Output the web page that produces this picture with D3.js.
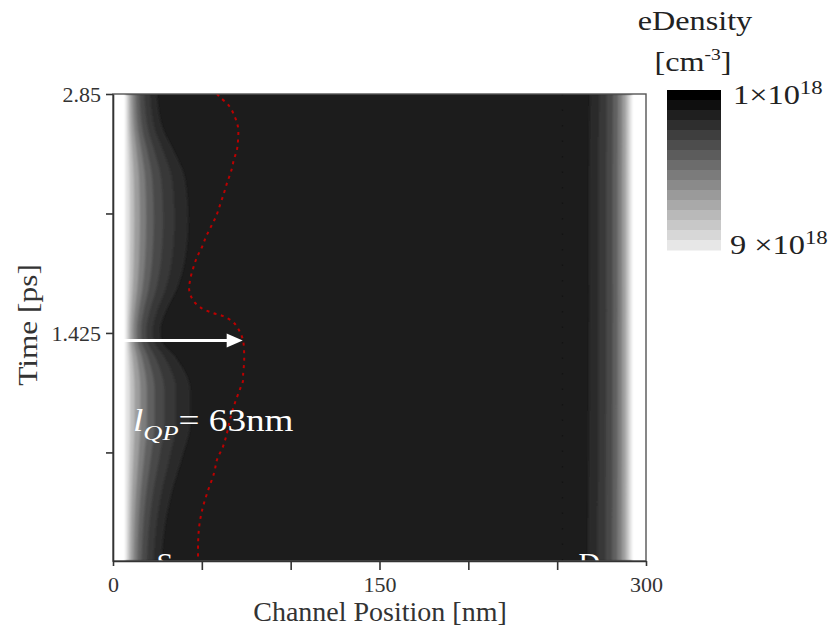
<!DOCTYPE html>
<html>
<head>
<meta charset="utf-8">
<script src="https://cdn.jsdelivr.net/npm/d3@7"></script>
<style>
  html, body { margin: 0; padding: 0; background: #fff; }
  svg { display: block; }
  text { font-family: "Liberation Serif", "Times New Roman", serif; }
</style>
</head>
<body>
<svg id="chart" width="835" height="633"></svg>
<script>
// ---- data ----
// Outer edge of the source-side accumulation region over time (nm)
const edgeTime   = [2.85, 2.635, 2.516, 2.337, 2.099, 1.842, 1.681, 1.562, 1.443, 1.383, 1.282, 1.085, 0.888, 0.685, 0.488, 0.292, 0.065];
const sourceEdge = [24.6, 28.3, 33.9, 40.6, 42.3, 40.1, 35.6, 30.0, 26.6, 27.1, 35.0, 43.4, 43.4, 38.9, 33.3, 29.4, 27.1];
// Drain-side outer edge (nm)
const drainEdge  = [268.5, 268.3, 268.2, 268.0, 268.0, 268.0, 268.1, 268.2, 268.0, 268.0, 268.0, 268.0, 267.8, 267.8, 267.6, 267.5, 267.4];
// Contact (fully doped) regions (nm)
const sourceContact = 7;
const drainContact = 292;

// Density bands: fraction of the gradient width from the contact, and density (x1e18 cm^-3)
const bandFraction = [1.0, 0.78, 0.6, 0.45, 0.33, 0.23, 0.14, 0.07];
const bandDensity  = [1.7, 2.1, 2.7, 3.5, 4.5, 5.6, 6.8, 8.0];

// Quasi-Fermi crossing position over time
const qpTime = [2.85, 2.83, 2.78, 2.71, 2.65, 2.58, 2.52, 2.46, 2.39, 2.32, 2.26, 2.19, 2.12, 2.06, 2.00, 1.94, 1.88, 1.81, 1.74, 1.68, 1.62, 1.575, 1.545, 1.525, 1.49, 1.44, 1.38, 1.31, 1.25, 1.17, 1.14, 1.09, 1.01, 0.91, 0.83, 0.75, 0.67, 0.59, 0.47, 0.37, 0.27, 0.17, 0.065];
const qpPos  = [58.5, 60.3, 65.3, 68.7, 70.4, 70.4, 69.8, 68.1, 66.5, 64.2, 62.5, 60.3, 58.0, 55.2, 52.4, 50.2, 47.4, 45.1, 43.4, 42.9, 45.1, 49.5, 55.8, 62.0, 67.6, 71.0, 73.2, 73.8, 73.8, 73.2, 73.2, 71.5, 68.7, 65.9, 64.2, 62.0, 58.6, 56.9, 53.0, 50.2, 48.5, 47.9, 47.9];

const lQP = 63;            // nm
const arrowTime = 1.38;    // ps
const channelStart = 10;   // nm, source junction

const xTicks = [0, 50, 100, 150, 200, 250, 300];
const xTickLabels = [0, 150, 300];
const yTicks = [2.85, 2.1375, 1.425, 0.7125];
const yTickLabels = [2.85, 1.425];

// Colour bar levels (x1e18 cm^-3)
const cbLevels = [1, 1.5, 2, 2.5, 3, 3.5, 4, 4.5, 5, 5.5, 6, 6.5, 7, 7.5, 8, 8.5, 9];

// ---- layout ----
const svg = d3.select("#chart");
const x = d3.scaleLinear().domain([0, 300]).range([113, 646]);
const y = d3.scaleLinear().domain([0.065, 2.85]).range([561, 94]);
const shade = d3.scaleLinear().domain([1, 9]).range(["#000000", "#f6f6f6"]);
const plotShade = d3.scaleLinear().domain([1, 1.7, 9]).range(["#1c1c1c", "#2c2c2c", "#ffffff"]);

// text placed at (tx, ty) and widened horizontally by sx
function wideText(parent, tx, ty, sx, rot = 0) {
  return parent.append("g")
    .attr("transform", `translate(${tx},${ty}) rotate(${rot}) scale(${sx},1)`)
    .append("text").attr("x", 0).attr("y", 0);
}

const defs = svg.append("defs");
defs.append("clipPath").attr("id", "plotClip")
  .append("rect")
  .attr("x", x(0)).attr("y", y(2.85))
  .attr("width", x(300) - x(0)).attr("height", y(0.065) - y(2.85));
defs.append("filter").attr("id", "soft")
  .attr("x", "-5%").attr("y", "-5%").attr("width", "110%").attr("height", "110%")
  .append("feGaussianBlur").attr("stdDeviation", 1.3);

const plot = svg.append("g").attr("clip-path", "url(#plotClip)");

// channel background
plot.append("rect")
  .attr("x", x(0)).attr("y", y(2.85))
  .attr("width", x(300) - x(0)).attr("height", y(0.065) - y(2.85))
  .attr("fill", plotShade(1));

const edges = edgeTime.map((t, i) => ({ t, s: sourceEdge[i], d: drainEdge[i] }));
const bands = plot.append("g").attr("filter", "url(#soft)");

bandFraction.forEach((f, k) => {
  const srcArea = d3.area()
    .y(d => y(d.t))
    .x0(x(-5))
    .x1(d => x(sourceContact + (d.s - sourceContact) * f))
    .curve(d3.curveMonotoneY);
  const drnArea = d3.area()
    .y(d => y(d.t))
    .x0(d => x(drainContact - (drainContact - d.d) * f))
    .x1(x(305))
    .curve(d3.curveMonotoneY);
  const col = plotShade(bandDensity[k]);
  bands.append("path").datum(edges).attr("d", srcArea).attr("fill", col);
  bands.append("path").datum(edges).attr("d", drnArea).attr("fill", col);
});
// contact regions
bands.append("rect").attr("x", x(-5)).attr("y", y(2.95))
  .attr("width", x(sourceContact) - x(-5)).attr("height", y(-0.05) - y(2.95)).attr("fill", "#fff");
bands.append("rect").attr("x", x(drainContact)).attr("y", y(2.95))
  .attr("width", x(305) - x(drainContact)).attr("height", y(-0.05) - y(2.95)).attr("fill", "#fff");

// faint dotted guide near the drain
plot.append("line")
  .attr("x1", x(253)).attr("x2", x(253)).attr("y1", y(2.85)).attr("y2", y(0.065))
  .attr("stroke", "#111").attr("stroke-width", 1.2).attr("stroke-dasharray", "1.5,14").attr("opacity", 0.8);

// S / D labels, cut by the bottom axis
plot.append("text").attr("x", x(24.5)).attr("y", y(0.065) + 12)
  .attr("font-size", 30).attr("fill", "#fff").text("S");
plot.append("text").attr("x", x(262)).attr("y", y(0.065) + 12)
  .attr("font-size", 30).attr("fill", "#fff").text("D");

// quasi-Fermi line
const qp = qpTime.map((t, i) => ({ t, p: qpPos[i] }));
plot.append("path").datum(qp)
  .attr("d", d3.line().x(d => x(d.p)).y(d => y(d.t)).curve(d3.curveCatmullRom.alpha(0.5)))
  .attr("fill", "none").attr("stroke", "#bb0000").attr("stroke-width", 2)
  .attr("stroke-dasharray", "3,4.5");

// arrow marking l_QP
const arrowEnd = channelStart + lQP;
plot.append("line")
  .attr("x1", x(0)).attr("x2", x(arrowEnd) - 12)
  .attr("y1", y(arrowTime)).attr("y2", y(arrowTime))
  .attr("stroke", "#fff").attr("stroke-width", 3);
plot.append("path")
  .attr("d", `M${x(arrowEnd)},${y(arrowTime)} L${x(arrowEnd) - 16},${y(arrowTime) - 7} L${x(arrowEnd) - 16},${y(arrowTime) + 7} Z`)
  .attr("fill", "#fff");

// l_QP annotation
const ann = wideText(plot, 133, 431, 1.2).attr("font-size", 31).attr("fill", "#fff");
ann.append("tspan").attr("font-style", "italic").text("l");
ann.append("tspan").attr("font-style", "italic").attr("font-size", 22).attr("dy", 9).text("QP");
ann.append("tspan").attr("dy", -9).text("= " + lQP + "nm");

// ---- frame & axes ----
svg.append("rect")
  .attr("x", x(0)).attr("y", y(2.85))
  .attr("width", x(300) - x(0)).attr("height", y(0.065) - y(2.85))
  .attr("fill", "none").attr("stroke", "#555").attr("stroke-width", 1.4);

const xAxis = svg.append("g").attr("transform", `translate(0,${y(0.065)})`)
  .call(d3.axisBottom(x).tickValues(xTicks)
    .tickFormat(d => xTickLabels.includes(d) ? d : "")
    .tickSize(9).tickSizeOuter(0));
const yAxis = svg.append("g").attr("transform", `translate(${x(0)},0)`)
  .call(d3.axisLeft(y).tickValues(yTicks)
    .tickFormat(d => yTickLabels.includes(d) ? d : "")
    .tickSize(7).tickSizeOuter(0));

[xAxis, yAxis].forEach(a => {
  a.select(".domain").attr("stroke", "#333").attr("stroke-width", 1.6);
  a.selectAll(".tick line").attr("stroke", "#333").attr("stroke-width", 1.6);
  a.selectAll(".tick text").attr("fill", "#333").attr("font-size", 22)
    .attr("font-family", "'Liberation Serif', 'Times New Roman', serif");
});
xAxis.selectAll(".tick line").attr("y2", d => (d === 0 || d === 300) ? 5 : 9);
xAxis.selectAll(".tick text").attr("y", 15);
yAxis.selectAll(".tick text").attr("x", -12).attr("dy", "0.34em");

svg.append("text").attr("x", 380).attr("y", 621).attr("text-anchor", "middle")
  .attr("font-size", 28).attr("fill", "#333").text("Channel Position [nm]");
wideText(svg, 37, 325, 1.12, -90).attr("text-anchor", "middle")
  .attr("font-size", 28).attr("fill", "#333").text("Time [ps]");

// ---- colour bar ----
const cb = { x: 667, y: 90, w: 54, h: 160 };
const cbY = d3.scaleLinear().domain([1, 9]).range([cb.y, cb.y + cb.h]);
svg.append("g").selectAll("rect")
  .data(cbLevels.slice(0, -1))
  .join("rect")
  .attr("x", cb.x).attr("width", cb.w)
  .attr("y", d => cbY(d))
  .attr("height", (d, i) => cbY(cbLevels[i + 1]) - cbY(d) + 0.5)
  .attr("fill", d => shade(d));

wideText(svg, 695, 30, 1.15).attr("text-anchor", "middle")
  .attr("font-size", 28).attr("fill", "#222").text("eDensity");
const unitLabel = wideText(svg, 693, 71, 1.15).attr("text-anchor", "middle")
  .attr("font-size", 28).attr("fill", "#222");
unitLabel.append("tspan").text("[cm");
unitLabel.append("tspan").attr("font-size", 17).attr("dy", -11).text("-3");
unitLabel.append("tspan").attr("dy", 11).text("]");

const cbTopLabel = wideText(svg, 733, 104, 1.2).attr("font-size", 27).attr("fill", "#222");
cbTopLabel.append("tspan").text("1×10");
cbTopLabel.append("tspan").attr("font-size", 19).attr("dy", -10).text("18");
const cbBottomLabel = wideText(svg, 730, 254, 1.2).attr("font-size", 27).attr("fill", "#222");
cbBottomLabel.append("tspan").text("9 ×10");
cbBottomLabel.append("tspan").attr("font-size", 19).attr("dy", -10).text("18");
</script>
</body>
</html>
